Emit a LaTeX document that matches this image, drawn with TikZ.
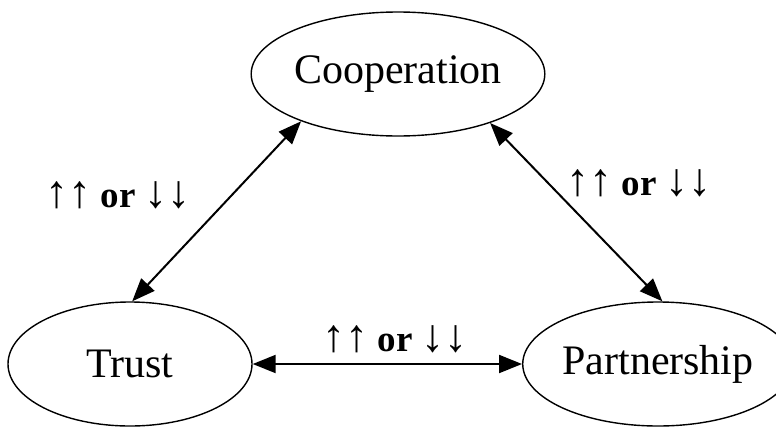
\documentclass[tikz,border=0pt]{standalone}
\usepackage{fontspec}
\setmainfont{Liberation Serif}
\usetikzlibrary{arrows.meta,shapes.geometric}
\newcommand{\arr}[1]{{\fontsize{46}{50}\selectfont #1}}
\newcommand{\relab}{\arr{↑↑}\hspace{9pt}\textbf{or}\hspace{9pt}\arr{↓↓}}
\begin{document}
\begin{tikzpicture}[x=1pt,y=-1pt,
  elli/.style={draw,line width=1.4pt,ellipse,inner sep=0pt,font=\fontsize{42}{46}\selectfont},
  conn/.style={line width=2pt,{Triangle[length=23pt,width=18pt]}-{Triangle[length=23pt,width=18pt]}},
  lab/.style={font=\fontsize{37}{40}\selectfont,inner sep=0pt}]
\useasboundingbox (0,0) rectangle (776,426);
\node[elli,minimum width=242pt,minimum height=124pt] (coop) at (398,74) {Cooperation};
\node[elli,minimum width=244pt,minimum height=124pt] (trust) at (130,364) {Trust};
\node[elli,minimum width=228pt,minimum height=124pt] (part) at (658,364) {Partnership};
\draw[conn] (coop.206.6) -- (trust.88);
\draw[conn] (coop.-28) -- (part.86);
\draw[conn] (trust) -- (part);
\node[lab] (l1) at (118,195) {\relab};
\node[lab] (l2) at (639,183) {\relab};
\node[lab] (l3) at (395,339) {\relab};
\end{tikzpicture}
\end{document}
